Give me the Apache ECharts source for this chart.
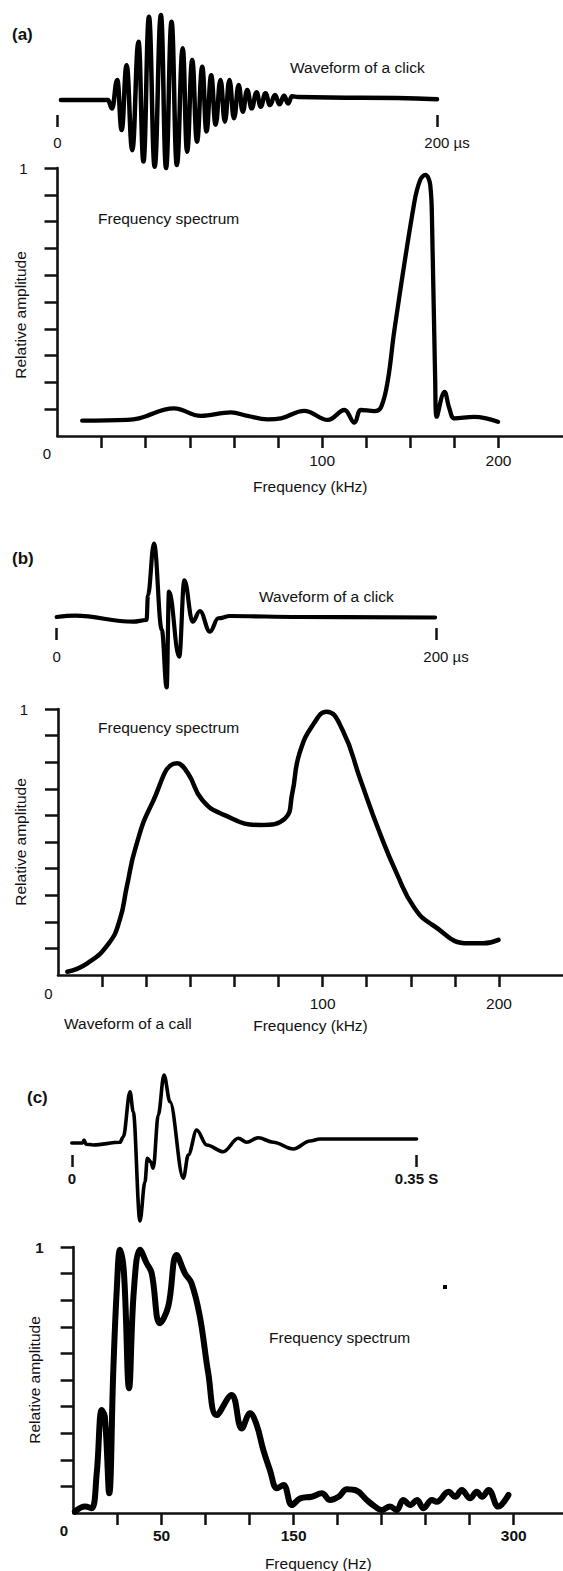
<!DOCTYPE html>
<html><head><meta charset="utf-8">
<script src="https://cdn.jsdelivr.net/npm/echarts@6/dist/echarts.min.js"></script>
<style>html,body{margin:0;padding:0;background:#fff}#c{width:563px;height:1571px}</style>
</head><body><div id="c"></div>
<script>
// ---------- (a) waveform of a click (time in µs, relative amplitude) ----------
const waveA_t   = [1.8, 26.6, 28.7, 31.5, 33.8, 36.4, 39.4, 42.7, 45.3, 48.2, 51.2, 54.5, 57.2, 60.1, 62.9, 66.0, 68.3, 71.0, 73.5, 76.3, 78.5, 81.0, 83.3, 85.9, 88.2, 90.6, 93.0, 95.5, 97.6, 100.0, 102.3, 104.9, 107.1, 109.6, 112.0, 114.6, 117.0, 119.4, 121.5, 123.6, 126.7, 160, 200];
const waveA_amp = [0, 0, -0.10, 0.235, -0.353, 0.41, -0.59, 0.686, -0.725, 0.98, -0.785, 1.0, -0.8, 0.92, -0.765, 0.61, -0.61, 0.47, -0.49, 0.39, -0.37, 0.29, -0.29, 0.235, -0.255, 0.235, -0.215, 0.176, -0.137, 0.118, -0.098, 0.09, -0.078, 0.078, -0.06, 0.06, -0.05, 0.05, -0.04, 0.045, 0.035, 0.025, 0.01];
const waveA_ticks = [0, 200];

// ---------- (a) frequency spectrum (kHz, relative amplitude) ----------
const specA_f   = [-36.0, -10.4, -3.8, 16.1, 31.2, 48.3, 57.7, 69.1, 76.7, 89.9, 103.2, 112.6, 118.3, 122.1, 129.7, 133.5, 137.3, 141.0, 152.2, 155.6, 158.5, 161.3, 162.4, 164.1, 165.0, 169.4, 172.1, 175.1, 186.3, 199.7];
const specA_amp = [0.057, 0.06, 0.066, 0.103, 0.075, 0.088, 0.075, 0.062, 0.066, 0.094, 0.06, 0.097, 0.05, 0.097, 0.093, 0.109, 0.209, 0.396, 0.869, 0.955, 0.974, 0.937, 0.769, 0.209, 0.072, 0.165, 0.104, 0.066, 0.071, 0.053];

// ---------- (b) waveform of a click ----------
const waveB_t   = [0, 9.8, 40.2, 47.4, 48.1, 51.3, 55.4, 58.0, 59.2, 64.6, 67.3, 71.7, 75.5, 80.8, 85.2, 91.4, 128, 199.5];
const waveB_amp = [0, 0.017, -0.063, -0.04, 0.29, 0.98, -0.17, -0.94, 0.34, -0.53, 0.49, -0.063, 0.08, -0.196, -0.017, 0.013, 0, -0.007];
const waveB_ticks = [0, 200];

// ---------- (b) frequency spectrum ----------
const specB_f   = [-44.7, -33.4, -21.2, -15.0, -11.0, -5.9, 3.3, 17.6, 23.7, 31.8, 44.1, 64.5, 78.8, 82.8, 86.9, 95.1, 102.3, 111.3, 121.5, 131.8, 142.0, 152.2, 162.4, 182.8, 190.9, 199.7];
const specB_amp = [0.012, 0.044, 0.119, 0.207, 0.332, 0.482, 0.645, 0.796, 0.758, 0.658, 0.602, 0.564, 0.589, 0.683, 0.833, 0.946, 0.99, 0.921, 0.733, 0.545, 0.382, 0.251, 0.188, 0.119, 0.119, 0.132];

// shared kHz axis ticks / labels for (a) and (b)
const khz_ticks  = [-25, 0, 25, 50, 75, 100, 125, 150, 175, 200];
const khz_labels = [100, 200];
const amp_ticks  = [0.1, 0.2, 0.3, 0.4, 0.5, 0.6, 0.7, 0.8, 0.9, 1.0];

// ---------- (c) waveform of a call (time in s) ----------
const waveC_t   = [0, 0.0109, 0.0124, 0.0144, 0.0218, 0.0489, 0.0523, 0.0591, 0.0624, 0.0692, 0.0743, 0.0767, 0.0801, 0.0827, 0.0878, 0.0936, 0.0997, 0.1132, 0.1183, 0.1268, 0.137, 0.1538, 0.1691, 0.1776, 0.1894, 0.2046, 0.2249, 0.2419, 0.252, 0.35];
const waveC_amp = [-0.025, -0.025, 0.0125, -0.04, -0.05, -0.016, 0.054, 0.616, 0.366, -1.0, -0.509, -0.216, -0.259, -0.341, 0.325, 0.825, 0.491, -0.466, -0.175, 0.1375, -0.05, -0.134, 0.034, -0.016, 0.041, -0.016, -0.1, 0, 0.025, 0.025];
const waveC_ticks = [0, 0.35];

// ---------- (c) frequency spectrum (x in axis tick positions) ----------
const specC_u   = [0.03, 0.26, 0.41, 0.525, 0.64, 0.71, 0.81, 0.90, 0.98, 1.055, 1.145, 1.26, 1.37, 1.51, 1.66, 1.775, 1.96, 2.15, 2.34, 2.53, 2.68, 2.87, 3.06, 3.25, 3.59, 3.82, 4.01, 4.16, 4.31, 4.46, 4.62, 4.77, 4.96, 5.15, 5.41, 5.64, 5.83, 6.02, 6.21, 6.43, 6.66, 6.85, 7.0, 7.19, 7.34, 7.49, 7.65, 7.80, 7.95, 8.14, 8.25, 8.52, 8.67, 8.82, 9.01, 9.16, 9.28, 9.43, 9.65, 9.88];
const specC_amp = [0.005, 0.024, 0.018, 0.149, 0.387, 0.362, 0.074, 0.525, 0.838, 0.99, 0.901, 0.469, 0.838, 0.99, 0.939, 0.901, 0.713, 0.776, 0.97, 0.901, 0.864, 0.738, 0.525, 0.368, 0.444, 0.318, 0.375, 0.331, 0.237, 0.162, 0.093, 0.105, 0.03, 0.055, 0.061, 0.074, 0.049, 0.061, 0.089, 0.084, 0.049, 0.024, 0.011, 0.024, 0.011, 0.049, 0.03, 0.049, 0.018, 0.049, 0.042, 0.08, 0.061, 0.086, 0.055, 0.08, 0.061, 0.086, 0.024, 0.068];
const specC_ticks = [1, 2, 3, 4, 5, 6, 7, 8, 9, 10];
const specC_tickLabels = {2: '50', 5: '150', 10: '300'};

// ---------- chart ----------
const FONT = '"Liberation Sans", Arial, Helvetica, sans-serif';
const INK = '#111';
const zip = (a, b) => a.map((v, i) => [v, b[i]]);
const chart = echarts.init(document.getElementById('c'), null, {renderer: 'svg'});

function waveX(idx, min, max, ticks, fmt, margin, bold) {
  return {
    gridIndex: idx, type: 'value', min: min, max: max,
    axisLine: {show: true, onZero: false, lineStyle: {color: 'rgba(0,0,0,0)', width: 0}},
    splitLine: {show: false},
    axisTick: {show: true, customValues: ticks, length: 12, lineStyle: {color: INK, width: 2.5}},
    axisLabel: {show: true, customValues: ticks, formatter: fmt, margin: margin,
      color: INK, fontFamily: FONT, fontSize: 15, fontWeight: bold ? 'bold' : 'normal',
      rich: {r: {padding: [0, 0, 0, 20], color: INK, fontFamily: FONT, fontSize: 15}}}
  };
}
function waveY(idx, min, max) {
  return {gridIndex: idx, type: 'value', min: min, max: max, show: false};
}
function specX(idx, min, max, ticks, labels, fmt, margin, name, bold) {
  return {
    gridIndex: idx, type: 'value', min: min, max: max,
    axisLine: {show: true, onZero: false, lineStyle: {color: INK, width: 2.6}},
    splitLine: {show: false},
    axisTick: {show: true, customValues: ticks, length: 12, lineStyle: {color: INK, width: 2.5}},
    axisLabel: {show: true, customValues: labels, formatter: fmt, margin: margin,
      color: INK, fontFamily: FONT, fontSize: 15.5, fontWeight: bold ? 'bold' : 'normal'},
    name: name, nameLocation: 'middle', nameGap: 42,
    nameTextStyle: {color: INK, fontFamily: FONT, fontSize: 15.5}
  };
}
function specY(idx, bold) {
  return {
    gridIndex: idx, type: 'value', min: 0, max: 1,
    axisLine: {show: true, onZero: false, lineStyle: {color: INK, width: 2.6}},
    splitLine: {show: false},
    axisTick: {show: true, customValues: amp_ticks, length: 13, lineStyle: {color: INK, width: 2.5}},
    axisLabel: {show: true, customValues: [1], formatter: v => String(v), margin: 30,
      color: INK, fontFamily: FONT, fontSize: 15, fontWeight: bold ? 'bold' : 'normal'}
  };
}
function line(idx, data, width, smooth, mono) {
  const s = {
    type: 'line', xAxisIndex: idx, yAxisIndex: idx, data: data,
    smooth: smooth, showSymbol: false, clip: false, silent: true,
    lineStyle: {color: '#000', width: width, cap: 'round', join: 'round'}
  };
  if (mono) s.smoothMonotone = 'x';
  return s;
}
function txt(x, y, s, opts) {
  opts = opts || {};
  return {
    type: 'text', x: x, y: y, rotation: opts.rot || 0, z: 100,
    style: {text: s, fill: INK, align: opts.align || 'left', verticalAlign: 'middle',
      font: (opts.bold ? 'bold ' : '') + (opts.size || 15.5) + 'px ' + FONT}
  };
}

const grids = [
  {left: 57.5, top: 15, width: 379.5, height: 100},
  {left: 57.5, top: 168, width: 505.5, height: 268},
  {left: 56.7, top: 542, width: 379.3, height: 86},
  {left: 58, top: 709, width: 505, height: 266},
  {left: 71.8, top: 1061, width: 344.7, height: 94},
  {left: 73.6, top: 1247, width: 489.4, height: 266}
].map(g => Object.assign({containLabel: false, outerBoundsMode: 'none'}, g));

const option = {
  backgroundColor: '#fff',
  animation: false,
  grid: grids,
  xAxis: [
    waveX(0, 0, 200, waveA_ticks, v => v === 0 ? '0' : '{r|' + v + ' µs}', 20, false),
    specX(1, -50, 236.56, khz_ticks, khz_labels, v => String(v), 16, 'Frequency (kHz)', false),
    waveX(2, 0, 200, waveB_ticks, v => v === 0 ? '0' : '{r|' + v + ' µs}', 21, false),
    specX(3, -50, 236.3, khz_ticks, khz_labels, v => String(v), 20, 'Frequency (kHz)', false),
    waveX(4, 0, 0.35, waveC_ticks, v => v === 0 ? '0' : v + ' S', 16, true),
    specX(5, 0, 11.12, specC_ticks, [2, 5, 10], v => specC_tickLabels[v] || '', 14, 'Frequency (Hz)', true)
  ],
  yAxis: [
    waveY(0, -0.1765, 1),
    specY(1, false),
    waveY(2, -0.1467, 1),
    specY(3, false),
    waveY(4, -0.175, 1),
    specY(5, true)
  ],
  series: [
    line(0, zip(waveA_t, waveA_amp), 4.5, 0.45, true),
    line(1, zip(specA_f, specA_amp), 4.3, 0.4, false),
    line(2, zip(waveB_t, waveB_amp), 4.2, 0.4, true),
    line(3, zip(specB_f, specB_amp), 4.5, 0.5, false),
    line(4, zip(waveC_t, waveC_amp), 3.6, 0.35, true),
    line(5, zip(specC_u, specC_amp), 6, 0.4, false)
  ],
  graphic: [
    txt(12, 34, '(a)', {bold: true, size: 17}),
    txt(290, 67, 'Waveform of a click'),
    txt(98, 218, 'Frequency spectrum'),
    txt(20, 315, 'Relative amplitude', {rot: Math.PI / 2, align: 'center'}),
    txt(47, 453, '0', {align: 'center', size: 15}),
    txt(12, 558, '(b)', {bold: true, size: 17}),
    txt(259, 596, 'Waveform of a click'),
    txt(98, 727, 'Frequency spectrum'),
    txt(20, 842, 'Relative amplitude', {rot: Math.PI / 2, align: 'center'}),
    txt(48.5, 993, '0', {align: 'center', size: 15}),
    txt(64, 1023, 'Waveform of a call'),
    txt(27, 1097, '(c)', {bold: true, size: 17}),
    txt(269, 1337, 'Frequency spectrum'),
    txt(34, 1380, 'Relative amplitude', {rot: Math.PI / 2, align: 'center'}),
    txt(64, 1530, '0', {align: 'center', size: 15, bold: true}),
    {type: 'rect', shape: {x: 443, y: 1285, width: 4, height: 4}, style: {fill: '#000'}, z: 100}
  ]
};
chart.setOption(option);
</script></body></html>
